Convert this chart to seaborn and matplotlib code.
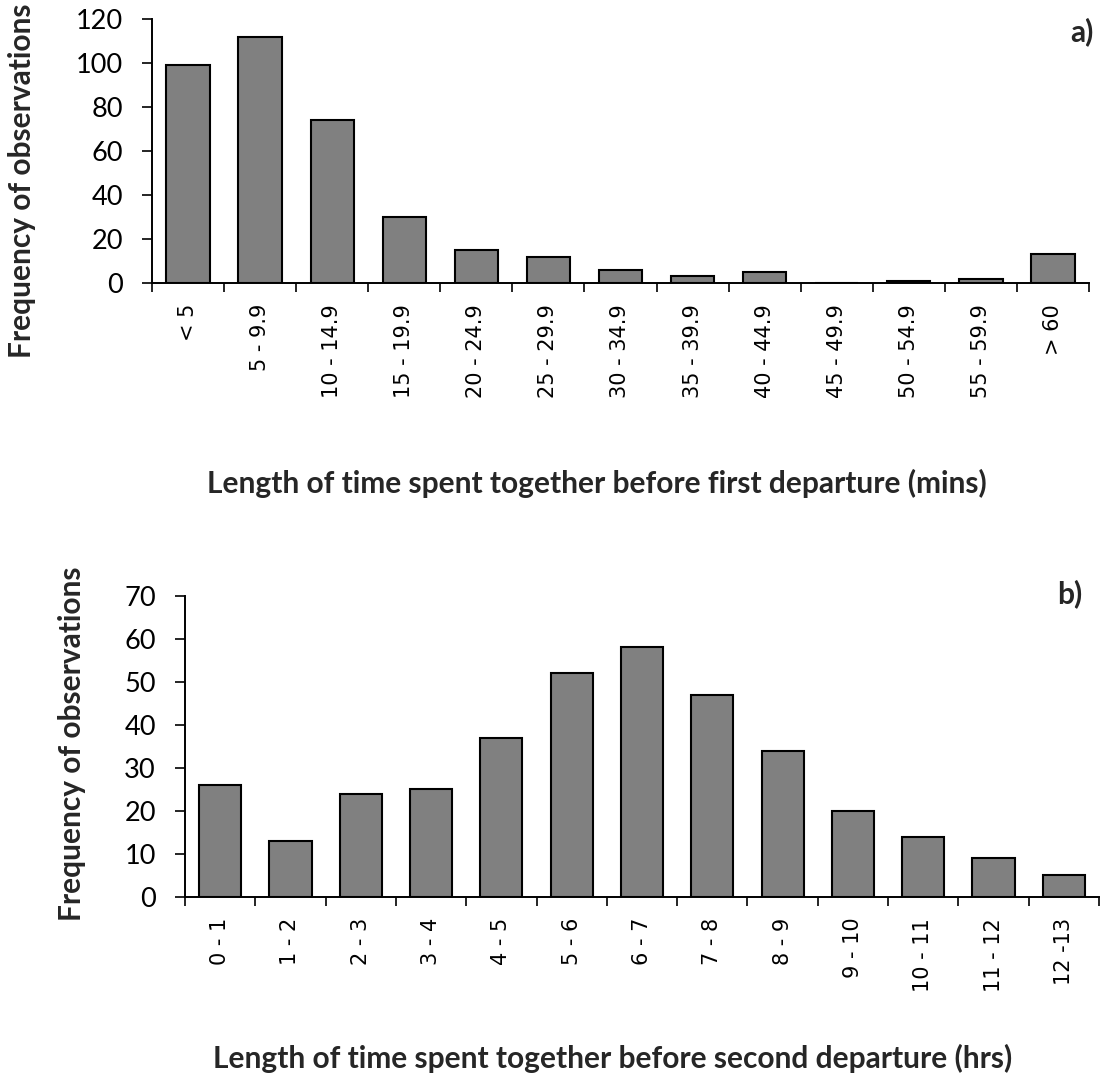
import matplotlib
matplotlib.use("Agg")
import matplotlib.pyplot as plt
import seaborn as sns
import pandas as pd

# ---- data ----
cats_a = ["< 5", "5 - 9.9", "10 - 14.9", "15 - 19.9", "20 - 24.9", "25 - 29.9",
          "30 - 34.9", "35 - 39.9", "40 - 44.9", "45 - 49.9", "50 - 54.9",
          "55 - 59.9", "> 60"]
vals_a = [99, 112, 74, 30, 15, 12, 6, 3, 5, 0, 1, 2, 13]

cats_b = ["0 - 1", "1 - 2", "2 - 3", "3 - 4", "4 - 5", "5 - 6", "6 - 7", "7 - 8",
          "8 - 9", "9 - 10", "10 - 11", "11 - 12", "12 -13"]
vals_b = [26, 13, 24, 25, 37, 52, 58, 47, 34, 20, 14, 9, 5]

yticks_a = [0, 20, 40, 60, 80, 100, 120]
yticks_b = [0, 10, 20, 30, 40, 50, 60, 70]

xlabel_a = "Length of time spent together before first departure (mins)"
xlabel_b = "Length of time spent together before second departure (hrs)"
ylabel = "Frequency of observations"

sns.set_style("white")
plt.rcParams["font.family"] = ["Lato", "DejaVu Sans"]

W, H = 1100, 1074
fig = plt.figure(figsize=(W / 100, H / 100), dpi=100)

ax_a = fig.add_axes([152 / W, 1 - 283 / H, (1089 - 152) / W, (283 - 19) / H])
ax_b = fig.add_axes([185 / W, 1 - 897 / H, (1099 - 185) / W, (897 - 595.7) / H])


def draw(ax, cats, vals, yticks):
    df = pd.DataFrame({"cat": cats, "val": vals})
    sns.barplot(data=df, x="cat", y="val", ax=ax, color="#808080", saturation=1,
                edgecolor="black", linewidth=1.5, width=0.6, order=cats)
    ax.set_xlim(-0.5, len(cats) - 0.5)
    ax.set_ylim(yticks[0], yticks[-1])
    ax.set_yticks(yticks)
    ax.set_xlabel("")
    ax.set_ylabel("")
    for s in ["top", "right"]:
        ax.spines[s].set_visible(False)
    for s in ["left", "bottom"]:
        ax.spines[s].set_color("black")
        ax.spines[s].set_linewidth(1.4)
    ax.set_xticks([i - 0.5 for i in range(len(cats) + 1)], minor=True)
    ax.tick_params(axis="x", which="minor", length=6.5, width=1.2, color="black",
                   direction="out", bottom=True)
    ax.tick_params(axis="x", which="major", length=0, pad=15)
    ax.tick_params(axis="y", which="major", length=7, width=1.2, color="black",
                   direction="out", left=True, pad=14, labelsize=19.5)
    ax.set_xticks(range(len(cats)))
    ax.set_xticklabels(cats, rotation=90, fontfamily="DejaVu Sans",
                       fontsize=15, color="black")
    for lab in ax.get_yticklabels():
        lab.set_color("black")


draw(ax_a, cats_a, vals_a, yticks_a)
draw(ax_b, cats_b, vals_b, yticks_b)

FS = 21.5
fig.text(22 / W, 1 - 181 / H, ylabel, rotation=90, ha="center", va="center",
         fontsize=FS, fontweight="bold")
fig.text(72 / W, 1 - 744 / H, ylabel, rotation=90, ha="center", va="center",
         fontsize=FS, fontweight="bold")
fig.text(597 / W, 1 - 483 / H, xlabel_a, ha="center", va="center",
         fontsize=FS, fontweight="bold")
fig.text(613 / W, 1 - 1058 / H, xlabel_b, ha="center", va="center",
         fontsize=FS, fontweight="bold")
fig.text(1082 / W, 1 - 32 / H, "a)", ha="center", va="center",
         fontsize=FS, fontweight="bold")
fig.text(1070 / W, 1 - 594 / H, "b)", ha="center", va="center",
         fontsize=FS, fontweight="bold")

fig.savefig("out.png", dpi=100, facecolor="white")
